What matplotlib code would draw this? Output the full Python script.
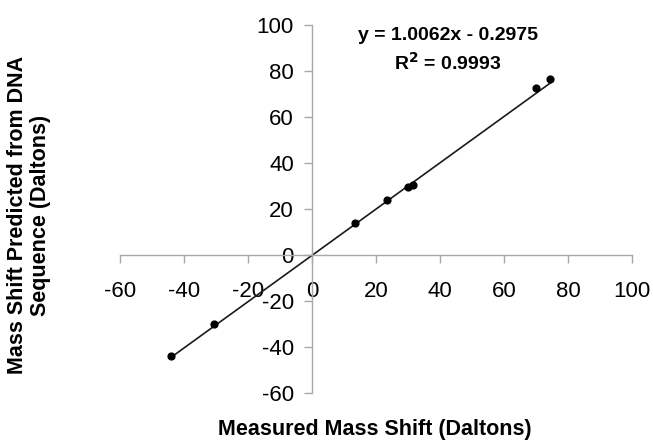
import numpy as np
import matplotlib
matplotlib.use('Agg')
import matplotlib.pyplot as plt
import matplotlib as mpl

mpl.rcParams['font.family'] = ['Liberation Sans', 'DejaVu Sans']
mpl.rcParams['axes.unicode_minus'] = False

# measured vs predicted mass shifts (Daltons)
measured = [-44, -30.5, 13.5, 23.5, 30, 31.5, 70, 74.5]
predicted = [-44, -30, 14, 24, 29.5, 30.5, 72.5, 76.5]

# trendline coefficients as printed on the chart
slope = 1.0062
intercept = -0.2975
r2 = 0.9993

ticks = [-60, -40, -20, 0, 20, 40, 60, 80, 100]

fig = plt.figure(figsize=(6.53, 4.41), dpi=100)
ax = fig.add_axes([0.1838, 0.1095, 0.784, 0.8345])

xs = np.array([min(measured), max(measured)])
ax.plot(xs, slope * xs + intercept, color='#1a1a1a', lw=1.2, zorder=2)
ax.scatter(measured, predicted, s=24, color='black', zorder=3)

ax.set_xlim(-60, 100)
ax.set_ylim(-60, 100)
ax.set_xticks(ticks)
ax.set_yticks(ticks)

for side in ['top', 'right']:
    ax.spines[side].set_visible(False)
for side in ['left', 'bottom']:
    ax.spines[side].set_position(('data', 0))
    ax.spines[side].set_color('#a8a8a8')
    ax.spines[side].set_linewidth(1.0)

ax.tick_params(axis='both', direction='out', length=6, width=1.0,
               color='#a8a8a8', labelsize=16)
ax.tick_params(axis='x', pad=13)
ax.tick_params(axis='y', pad=7)

fig.text(448 / 653, 1 - 35 / 441, 'y = 1.0062x - 0.2975',
         ha='center', va='center', fontsize=14, weight='bold')
fig.text(448 / 653, 1 - 63 / 441, r'R$^{\mathbf{2}}$ = %.4f' % r2,
         ha='center', va='center', fontsize=14, weight='bold')

fig.text(375 / 653, 1 - 430 / 441, 'Measured Mass Shift (Daltons)',
         ha='center', va='center', fontsize=15.5, weight='bold')
fig.text(29 / 653, 1 - 215 / 441, 'Mass Shift Predicted from DNA\nSequence (Daltons)',
         ha='center', va='center', rotation=90, fontsize=15.5, weight='bold',
         linespacing=1.1)

fig.savefig('out.png', dpi=100)
